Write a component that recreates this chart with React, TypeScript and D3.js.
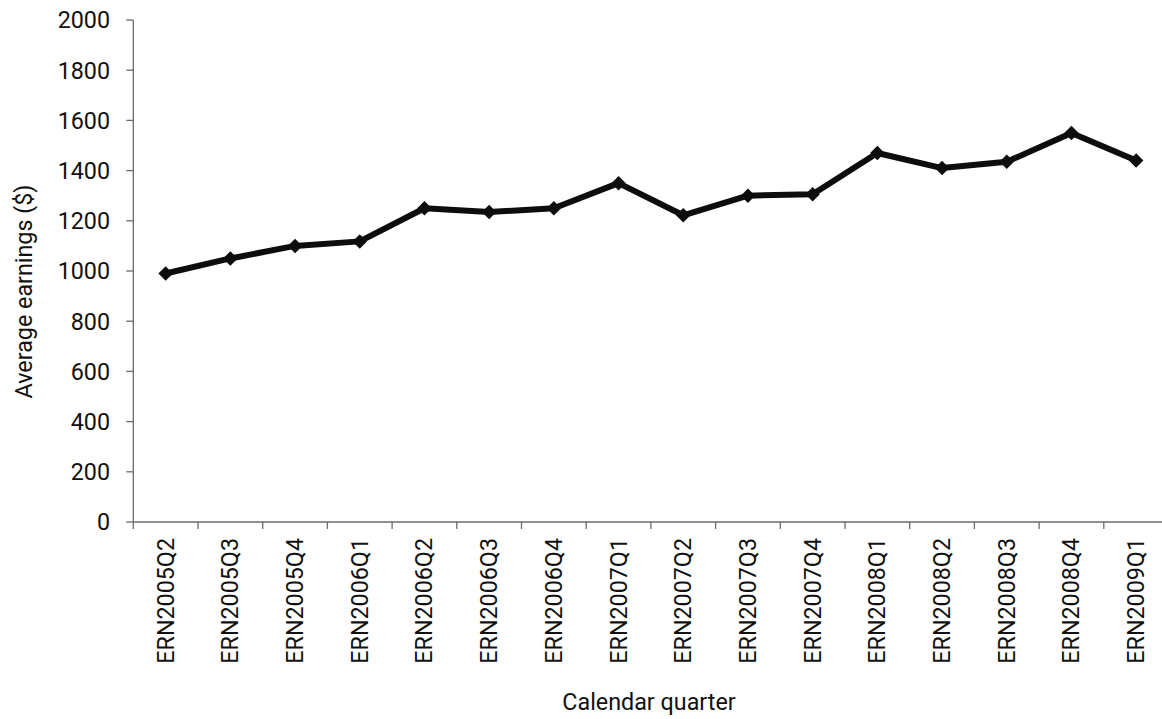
import React from "react";
import * as d3 from "d3";

const categories = [
  "ERN2005Q2", "ERN2005Q3", "ERN2005Q4", "ERN2006Q1", "ERN2006Q2", "ERN2006Q3",
  "ERN2006Q4", "ERN2007Q1", "ERN2007Q2", "ERN2007Q3", "ERN2007Q4", "ERN2008Q1",
  "ERN2008Q2", "ERN2008Q3", "ERN2008Q4", "ERN2009Q1",
];
const earnings = [990, 1050, 1100, 1118, 1250, 1235, 1250, 1350, 1222, 1300, 1306, 1470, 1410, 1435, 1550, 1440];
const yTicks = [0, 200, 400, 600, 800, 1000, 1200, 1400, 1600, 1800, 2000];

const W = 1162;
const H = 719;
const left = 133.3;
const bandW = 64.7;
const top = 20;
const bottom = 522;

export default function App() {
  const x = d3.scaleBand<string>().domain(categories).range([left, left + bandW * categories.length]);
  const y = d3.scaleLinear().domain([0, 2000]).range([bottom, top]);
  const line = d3
    .line<number>()
    .x((_, i) => (x(categories[i]) as number) + x.bandwidth() / 2)
    .y((d) => y(d));
  const diamond = d3.symbol().type(d3.symbolSquare).size(105)() as string;
  const font = "Roboto, sans-serif";
  const axisColor = "#6b6b6b";
  return (
    <svg width={W} height={H} style={{ position: "fixed", left: 0, top: 0, background: "#fff" }} fontFamily={font}>
      <rect width={W} height={H} fill="#fff" />
      {/* y axis */}
      <line x1={left} x2={left} y1={top} y2={bottom} stroke={axisColor} strokeWidth={1.3} />
      {yTicks.map((t) => (
        <g key={t}>
          <line x1={left - 7} x2={left} y1={y(t)} y2={y(t)} stroke={axisColor} strokeWidth={1.3} />
          <text x={110} y={y(t)} dy="0.36em" textAnchor="end" fontSize={23.3} fill="#111">
            {t}
          </text>
        </g>
      ))}
      {/* x axis */}
      <line x1={left} x2={left + bandW * categories.length} y1={bottom} y2={bottom} stroke={axisColor} strokeWidth={1.3} />
      {categories.map((c) => (
        <line
          key={"t" + c}
          x1={x(c) as number}
          x2={x(c) as number}
          y1={bottom}
          y2={bottom + 7}
          stroke={axisColor}
          strokeWidth={1.3}
        />
      ))}
      {categories.map((c) => {
        const cx = (x(c) as number) + x.bandwidth() / 2;
        return (
          <text
            key={"l" + c}
            transform={`translate(${cx + 8},538) rotate(-90)`}
            textAnchor="end"
            fontSize={23.3}
            fill="#111"
          >
            {c}
          </text>
        );
      })}
      <path d={line(earnings) as string} fill="none" stroke="#0d0d0d" strokeWidth={6} strokeLinejoin="round" />
      {earnings.map((v, i) => (
        <path
          key={"m" + i}
          d={diamond}
          transform={`translate(${(x(categories[i]) as number) + x.bandwidth() / 2},${y(v)}) rotate(45)`}
          fill="#0d0d0d"
        />
      ))}
      <text transform={`translate(31.5,291.5) rotate(-90)`} textAnchor="middle" fontSize={23.3} fill="#111">
        Average earnings ($)
      </text>
      <text x={649} y={710} textAnchor="middle" fontSize={23.3} fill="#111">
        Calendar quarter
      </text>
    </svg>
  );
}
